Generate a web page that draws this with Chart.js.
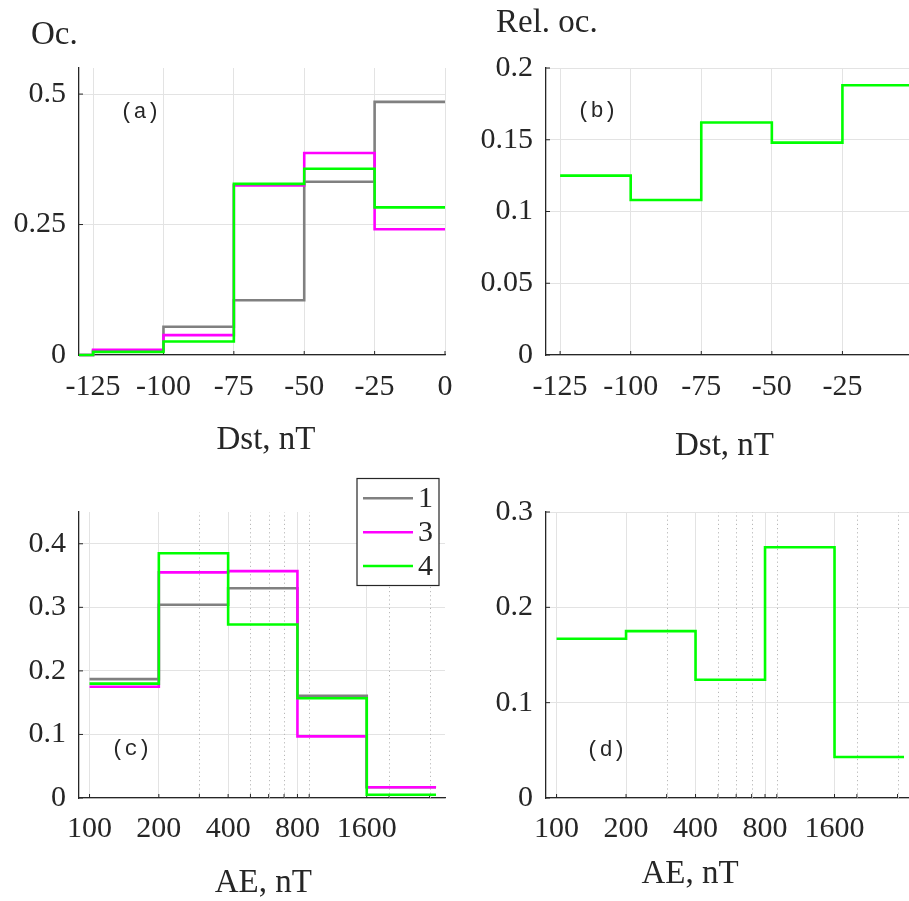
<!DOCTYPE html>
<html><head><meta charset="utf-8">
<script src="https://cdn.jsdelivr.net/npm/chart.js@4.4.1/dist/chart.umd.min.js"></script>
<style>
html,body{margin:0;padding:0;background:#fff;width:909px;height:901px;overflow:hidden;position:relative}
canvas{position:absolute}
</style></head><body>
<canvas id="ca" width="460" height="470" style="left:0;top:0"></canvas>
<canvas id="cb" width="470" height="470" style="left:460px;top:0"></canvas>
<canvas id="cc" width="460" height="451" style="left:0;top:450px"></canvas>
<canvas id="cd" width="470" height="451" style="left:460px;top:450px"></canvas>
<script>
// ---- data ----
const seriesLabels = ['1', '3', '4'];
const dstEdges = [-130, -125, -100, -75, -50, -25, 0];
const dstOcc1 = [0, 0.008, 0.054, 0.105, 0.332, 0.485];
const dstOcc3 = [0, 0.010, 0.038, 0.325, 0.387, 0.241];
const dstOcc4 = [0, 0.006, 0.026, 0.328, 0.357, 0.283];
const dstRelEdges = [-125, -100, -75, -50, -25, 0];
const dstRel = [0.125, 0.108, 0.162, 0.148, 0.188];
const aeEdges = [100, 200, 400, 800, 1600, 3200];
const aeOcc1 = [0.187, 0.304, 0.330, 0.161, 0.017];
const aeOcc3 = [0.175, 0.355, 0.357, 0.097, 0.017];
const aeOcc4 = [0.180, 0.385, 0.273, 0.157, 0.005];
const aeRel = [0.167, 0.175, 0.124, 0.263, 0.043];
// ---- ticks ----
const dstTicks = [-125, -100, -75, -50, -25, 0];
const dstTickLabelsA = ['-125', '-100', '-75', '-50', '-25', '0'];
const dstTickLabelsB = ['-125', '-100', '-75', '-50', '-25', ''];
const aeTicks = [100, 200, 300, 400, 500, 600, 700, 800, 900, 1600, 2000, 3000];
const aeMajorTicks = [100, 200, 400, 800, 1600];
const aeMinorTicks = [300, 500, 600, 700, 900, 2000, 3000];
const yTicksA = [0, 0.25, 0.5];
const yLabelsA = ['0', '0.25', '0.5'];
const yTicksB = [0, 0.05, 0.1, 0.15, 0.2];
const yLabelsB = ['0', '0.05', '0.1', '0.15', '0.2'];
const yTicksC = [0, 0.1, 0.2, 0.3, 0.4];
const yLabelsC = ['0', '0.1', '0.2', '0.3', '0.4'];
const yTicksD = [0, 0.1, 0.2, 0.3];
const yLabelsD = ['0', '0.1', '0.2', '0.3'];

// ---- styles ----
const SERIF = "'Liberation Serif', 'Times New Roman', serif";
const MONO = "'Liberation Mono', 'Courier New', monospace";
const TXT = '#262626';
const GRID = '#e3e3e3';
const AX = '#262626';
const COLORS = ['#808080', '#ff00ff', '#00ff00'];
const LW = 2.6;

function steps(edges, vals) {
  const pts = vals.map((v, i) => ({x: edges[i], y: v}));
  pts.push({x: edges[edges.length - 1], y: vals[vals.length - 1]});
  return pts;
}

function yScale(ticks, labels, max, width) {
  return {
    type: 'linear', min: 0, max: max, bounds: 'data',
    afterBuildTicks: s => { s.ticks = ticks.map(v => ({value: v})); },
    afterFit: s => { s.width = width; },
    ticks: {padding: 13, color: TXT, autoSkip: false, font: {family: SERIF, size: 30},
      callback: (v, i) => labels[i]},
    grid: {color: GRID, lineWidth: 1, drawTicks: false},
    border: {color: AX, width: 1.3}
  };
}
function xLin(ticks, labels, height, pad) {
  return {
    type: 'linear', min: -130, max: 0, bounds: 'data',
    afterBuildTicks: s => { s.ticks = ticks.map(v => ({value: v})); },
    afterFit: s => { s.height = height; s.paddingLeft = 0; s.paddingRight = 0; },
    ticks: {padding: pad, color: TXT, autoSkip: false, maxRotation: 0, font: {family: SERIF, size: 30},
      callback: (v, i) => labels[i]},
    grid: {color: GRID, lineWidth: 1, drawTicks: false},
    border: {color: AX, width: 1.3}
  };
}
function xLog(height, pad) {
  return {
    type: 'logarithmic', min: 90, max: 3500, bounds: 'data',
    afterBuildTicks: s => { s.ticks = aeTicks.map(v => ({value: v})); },
    afterFit: s => { s.height = height; s.paddingLeft = 0; s.paddingRight = 0; },
    ticks: {padding: pad, color: TXT, autoSkip: false, maxRotation: 0, font: {family: SERIF, size: 30},
      callback: (v) => aeMajorTicks.includes(v) ? String(v) : ''},
    grid: {color: c => (c.tick && aeMajorTicks.includes(c.tick.value)) ? GRID : 'rgba(0,0,0,0)', lineWidth: 1, drawTicks: false},
    border: {color: AX, width: 1.3}
  };
}

function ds(label, data, color, order) {
  return {label, data, borderColor: color, backgroundColor: color, borderWidth: LW,
    pointRadius: 0, stepped: true, fill: false, order, clip: false, tension: 0};
}

function decor(cfg) {
  return {
    id: 'decor',
    beforeDatasetsDraw(chart) {
      const ctx = chart.ctx, a = chart.chartArea, xs = chart.scales.x, ys = chart.scales.y;
      ctx.save();
      if (cfg.minor) {
        ctx.strokeStyle = '#b8b8b8'; ctx.lineWidth = 1; ctx.setLineDash([1.2, 3]);
        cfg.minor.forEach(v => {
          const px = Math.round(xs.getPixelForValue(v)) + 0.5;
          ctx.beginPath(); ctx.moveTo(px, a.bottom); ctx.lineTo(px, a.top); ctx.stroke();
        });
        ctx.setLineDash([]);
      }
      ctx.strokeStyle = AX; ctx.lineWidth = 1;
      xs.ticks.forEach(t => {
        const px = xs.getPixelForValue(t.value);
        ctx.beginPath(); ctx.moveTo(px, a.bottom); ctx.lineTo(px, a.bottom - 4); ctx.stroke();
      });
      ys.ticks.forEach(t => {
        const py = ys.getPixelForValue(t.value);
        ctx.beginPath(); ctx.moveTo(a.left, py); ctx.lineTo(a.left + 4, py); ctx.stroke();
      });
      ctx.restore();
    },
    afterDraw(chart) {
      const ctx = chart.ctx;
      ctx.save();
      ctx.fillStyle = TXT;
      cfg.texts.forEach(t => {
        ctx.font = t.font; ctx.textAlign = t.align; ctx.textBaseline = t.base;
        ctx.fillText(t.t, t.x - cfg.ox, t.y - cfg.oy);
      });
      if (cfg.legend) {
        const bx = 357 - cfg.ox, by = 478.5 - cfg.oy, bw = 82, bh = 107;
        ctx.fillStyle = '#fff'; ctx.fillRect(bx, by, bw, bh);
        ctx.strokeStyle = AX; ctx.lineWidth = 1.2; ctx.strokeRect(bx, by, bw, bh);
        const rows = [498.3, 532.3, 566];
        chart.data.datasets.forEach((d, i) => {
          const y = rows[i] - cfg.oy;
          ctx.strokeStyle = d.borderColor; ctx.lineWidth = LW;
          ctx.beginPath(); ctx.moveTo(363 - cfg.ox, y); ctx.lineTo(413 - cfg.ox, y); ctx.stroke();
          ctx.fillStyle = TXT; ctx.font = '30px ' + SERIF; ctx.textAlign = 'left'; ctx.textBaseline = 'middle';
          ctx.fillText(d.label, 418 - cfg.ox, y + 1);
        });
      }
      ctx.restore();
    }
  };
}

const base = (padding) => ({
  responsive: false, animation: false, devicePixelRatio: 1, events: [],
  layout: {padding},
  plugins: {legend: {display: false}, tooltip: {enabled: false}, title: {display: false}}
});

const LBL = '33px ' + SERIF;
const PAN = '22px ' + MONO;

// (a)
new Chart(document.getElementById('ca'), {
  type: 'line',
  data: {datasets: [
    ds(seriesLabels[0], steps(dstEdges, dstOcc1), COLORS[0], 3),
    ds(seriesLabels[1], steps(dstEdges, dstOcc3), COLORS[1], 2),
    ds(seriesLabels[2], steps(dstEdges, dstOcc4), COLORS[2], 1)
  ]},
  options: Object.assign(base({top: 68, left: 0, right: 15, bottom: 0}), {
    scales: {x: xLin(dstTicks, dstTickLabelsA, 115, 14), y: yScale(yTicksA, yLabelsA, 0.55, 79)}
  }),
  plugins: [decor({ox: 0, oy: 0, texts: [
    {t: 'Oc.', x: 31, y: 44, font: LBL, align: 'left', base: 'alphabetic'},
    {t: 'Dst, nT', x: 266, y: 449, font: LBL, align: 'center', base: 'alphabetic'},
    {t: '(a)', x: 140, y: 112, font: PAN, align: 'center', base: 'middle'}
  ]})]
});

// (b)
new Chart(document.getElementById('cb'), {
  type: 'line',
  data: {datasets: [ds(seriesLabels[2], steps(dstRelEdges, dstRel), COLORS[2], 1)]},
  options: Object.assign(base({top: 68, left: 0, right: 17, bottom: 0}), {
    scales: {x: xLin(dstTicks, dstTickLabelsB, 115, 14), y: yScale(yTicksB, yLabelsB, 0.2, 86)}
  }),
  plugins: [decor({ox: 460, oy: 0, texts: [
    {t: 'Rel. oc.', x: 496, y: 31.5, font: LBL, align: 'left', base: 'alphabetic'},
    {t: 'Dst, nT', x: 724.5, y: 455, font: LBL, align: 'center', base: 'alphabetic'},
    {t: '(b)', x: 597, y: 111.5, font: PAN, align: 'center', base: 'middle'}
  ]})]
});

// (c)
new Chart(document.getElementById('cc'), {
  type: 'line',
  data: {datasets: [
    ds(seriesLabels[0], steps(aeEdges, aeOcc1), COLORS[0], 3),
    ds(seriesLabels[1], steps(aeEdges, aeOcc3), COLORS[1], 2),
    ds(seriesLabels[2], steps(aeEdges, aeOcc4), COLORS[2], 1)
  ]},
  options: Object.assign(base({top: 62, left: 0, right: 15, bottom: 0}), {
    scales: {x: xLog(103, 13), y: yScale(yTicksC, yLabelsC, 0.45, 79)}
  }),
  plugins: [decor({ox: 0, oy: 450, minor: aeMinorTicks, legend: true, texts: [
    {t: 'AE, nT', x: 263.3, y: 891.5, font: LBL, align: 'center', base: 'alphabetic'},
    {t: '(c)', x: 131, y: 749, font: PAN, align: 'center', base: 'middle'}
  ]})]
});

// (d)
new Chart(document.getElementById('cd'), {
  type: 'line',
  data: {datasets: [ds(seriesLabels[2], steps(aeEdges, aeRel), COLORS[2], 1)]},
  options: Object.assign(base({top: 62, left: 0, right: 17, bottom: 0}), {
    scales: {x: xLog(103, 13), y: yScale(yTicksD, yLabelsD, 0.3, 86)}
  }),
  plugins: [decor({ox: 460, oy: 450, minor: aeMinorTicks, texts: [
    {t: 'AE, nT', x: 690, y: 883, font: LBL, align: 'center', base: 'alphabetic'},
    {t: '(d)', x: 606, y: 750.5, font: PAN, align: 'center', base: 'middle'}
  ]})]
});
</script>
</body></html>
